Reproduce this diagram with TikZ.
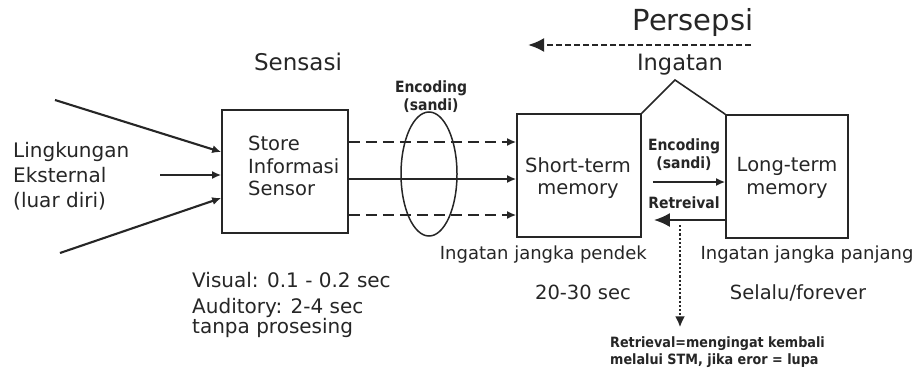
\documentclass[tikz,border=0pt]{standalone}
\usepackage{fontspec}
\setmainfont{DejaVu Sans}
\newfontfamily\cond{DejaVu Sans Condensed}
\usetikzlibrary{arrows.meta,shapes.geometric}
\tikzset{
  ink/.style={black!85},
  box/.style={draw=black!85,line width=1.6pt,minimum width=#1,minimum height=123pt,inner sep=0pt},
  txt/.style={text=black!85,inner sep=0pt,font=\fontsize{19.5}{22.5}\selectfont},
  small/.style={text=black!85,inner sep=0pt,font=\cond\bfseries\fontsize{15.5}{18}\selectfont,align=center},
  arr/.style={draw=black!85,line width=2.1pt,-{Latex[length=9pt,width=8pt]}},
  darr/.style={arr,dash pattern=on 11pt off 6pt},
  bigarr/.style={draw=black!85,line width=2.3pt,-{Latex[length=16pt,width=14pt]}},
}
\begin{document}
\begin{tikzpicture}[x=1pt,y=-1pt]
\useasboundingbox[fill=white] (0,0) rectangle (918,372);

% boxes
\node[box=126pt] (store) at (285,171.5) {};
\node[box=124pt] (stm) at (579,175.5) {};
\node[box=122pt] (ltm) at (787,176.5) {};
\coordinate (roof) at (675,80);
\draw[ink,line width=1.6pt] (stm.north east) -- (roof) -- (ltm.north west);

% box texts
\node[txt,align=left,anchor=west] (storetxt) at (248,166) {Store\\Informasi\\Sensor};
\node[txt,align=center] (stmtxt) at (578,178) {Short-term\\memory};
\node[txt,align=center] (ltmtxt) at (787,178) {Long-term\\memory};

% left input
\node[txt,align=left,anchor=west,font=\fontsize{20}{25}\selectfont] (env) at (13,176) {Lingkungan\\Eksternal\\(luar diri)};
\coordinate (in1) at (55,100);
\coordinate (in2) at (160,175);
\coordinate (in3) at (60,253);
\draw[arr] (in1) -- ([yshift=19.5pt]store.west);
\draw[arr] (in2) -- ([yshift=-3.5pt]store.west);
\draw[arr] (in3) -- ([yshift=-26.5pt]store.west);

% store -> stm
\draw[darr] ([yshift=29.5pt]store.east) -- ([yshift=29.5pt]store.east -| stm.west);
\draw[arr] ([yshift=-7.5pt]store.east) -- ([yshift=-7.5pt]store.east -| stm.west);
\draw[darr] ([yshift=-43.5pt]store.east) -- ([yshift=-43.5pt]store.east -| stm.west);

% ellipse
\node[ellipse,draw=black!85,line width=1.5pt,minimum width=56pt,minimum height=124pt,inner sep=0pt] (enc) at (429,174) {};
\node[small] (enclbl) at (431,97) {Encoding\\(sandi)};

\node[txt,font=\fontsize{23}{25}\selectfont] (sensasi) at (298,62) {Sensasi};

% between stm and ltm
\node[small] (enc2) at (684,155) {Encoding\\(sandi)};
\node[small] (ret) at (684,203) {Retreival};
\draw[arr,line width=1.8pt,shorten <=11pt] ([yshift=-6.5pt]stm.east) -- ([yshift=-6.5pt]stm.east -| ltm.west);
\draw[bigarr,shorten >=12pt] ([yshift=-43.5pt]ltm.west) -- ([yshift=-43.5pt]ltm.west -| stm.east);

% Persepsi / Ingatan
\node[txt,font=\fontsize{29}{30}\selectfont] (persepsi) at (693,22) {Persepsi};
\coordinate (p1) at (751,45);
\coordinate (p2) at (528,45);
\draw[bigarr,dash pattern=on 6pt off 3pt] (p1) -- (p2);
\node[txt,font=\fontsize{22.5}{24}\selectfont] (ingatan) at (680,65) {Ingatan};

% labels below
\node[txt,font=\fontsize{18}{20}\selectfont,anchor=east] (pendek) at (647,255) {Ingatan jangka pendek};
\node[txt,font=\fontsize{18}{20}\selectfont] (panjang) at (807,255) {Ingatan jangka panjang};
\node[txt] (stmtime) at (583,292) {20-30 sec};
\node[txt] (ltmtime) at (798,293) {Selalu/forever};
\node[txt,anchor=west,font=\fontsize{20}{22}\selectfont] (visual) at (192,280) {Visual: 0.1 - 0.2 sec};
\node[txt,anchor=west,align=left,font=\fontsize{20}{20.5}\selectfont] (audit) at (192,318) {Auditory: 2-4 sec\\tanpa prosesing};

% retrieval note
\node[small,align=left,anchor=west,font=\cond\bfseries\fontsize{14.2}{17}\selectfont] (note) at (610,352) {Retrieval=mengingat kembali\\melalui STM, jika eror = lupa};
\coordinate (d1) at (680,225);
\draw[draw=black!85,line width=2.2pt,dotted,-{Latex[length=11pt,width=10pt]}] (d1) -- (d1 |- note.north) [shorten >=9pt];
\end{tikzpicture}
\end{document}
